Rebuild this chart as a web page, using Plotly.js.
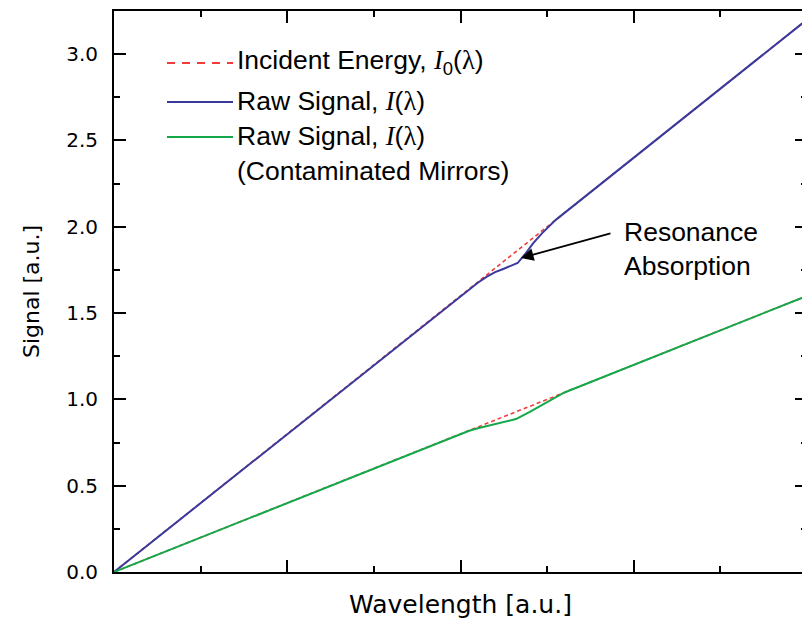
<!DOCTYPE html>
<html>
<head>
<meta charset="utf-8">
<script src="https://cdn.plot.ly/plotly-3.0.1.min.js"></script>
<style>
html, body { margin: 0; padding: 0; overflow: hidden; background: #fff; }
#chart { width: 812px; height: 619px; }
</style>
</head>
<body>
<div id="chart"></div>
<script>
// ---- data ----
const xIncident = [0, 4];
const yIncident = [0, 3.2];
const yIncidentCM = [0, 1.6];

const xRaw = [0, 2.00, 2.05, 2.10, 2.15, 2.20, 2.25, 2.30, 2.33, 2.37, 2.42, 2.47, 2.52, 2.55, 4];
const yRaw = [0, 1.600, 1.639, 1.676, 1.710, 1.737, 1.757, 1.776, 1.790, 1.838, 1.905, 1.962, 2.014, 2.040, 3.2];

const xCM = [0, 2.00, 2.05, 2.10, 2.15, 2.20, 2.25, 2.32, 2.40, 2.47, 2.55, 2.60, 4];
const yCM = [0, 0.800, 0.818, 0.833, 0.846, 0.858, 0.869, 0.886, 0.928, 0.968, 1.012, 1.040, 1.6];

const yTickVals = [0, 0.5, 1.0, 1.5, 2.0, 2.5, 3.0];
const yTickText = ['0.0', '0.5', '1.0', '1.5', '2.0', '2.5', '3.0'];

const legendLabels = [
  'Incident Energy, <span style="font-family:\'Liberation Serif\';font-style:italic">I</span><sub>0</sub>(<span style="font-family:\'Liberation Serif\'">λ</span>)',
  'Raw Signal, <span style="font-family:\'Liberation Serif\';font-style:italic">I</span>(<span style="font-family:\'Liberation Serif\'">λ</span>)',
  'Raw Signal, <span style="font-family:\'Liberation Serif\';font-style:italic">I</span>(<span style="font-family:\'Liberation Serif\'">λ</span>)',
  '(Contaminated Mirrors)'
];

// ---- styles ----
const RED = '#f03c3c', BLUE = '#3a3a9c', GREEN = '#14a84a';
const L = 114, T = 11, W = 693, H = 561;
const px = v => (v - L) / W;          // pixel -> paper x
const py = v => (T + H - v) / H;      // pixel -> paper y

const traces = [
  { x: xIncident, y: yIncident, mode: 'lines', line: { color: RED, width: 1.6, dash: '4px,3px' }, showlegend: false, hoverinfo: 'skip' },
  { x: xIncident, y: yIncidentCM, mode: 'lines', line: { color: RED, width: 1.6, dash: '4px,3px' }, showlegend: false, hoverinfo: 'skip' },
  { x: xRaw, y: yRaw, mode: 'lines', line: { color: BLUE, width: 2 }, showlegend: false },
  { x: xCM, y: yCM, mode: 'lines', line: { color: GREEN, width: 2 }, showlegend: false }
];

const legFont = { family: 'Liberation Sans, Arial, sans-serif', size: 26.5, color: '#000' };
const shapes = [
  { type: 'line', xref: 'paper', yref: 'paper', x0: px(167), x1: px(233), y0: py(63), y1: py(63), line: { color: RED, width: 2, dash: '8px,7px' } },
  { type: 'line', xref: 'paper', yref: 'paper', x0: px(167), x1: px(233), y0: py(102), y1: py(102), line: { color: BLUE, width: 2 } },
  { type: 'line', xref: 'paper', yref: 'paper', x0: px(167), x1: px(233), y0: py(137), y1: py(137), line: { color: GREEN, width: 2 } }
];
const legY = [62, 101, 136, 171];
const annotations = legendLabels.map((t, i) => ({
  xref: 'paper', yref: 'paper', x: px(235), y: py(legY[i]), xanchor: 'left', yanchor: 'middle',
  text: t, showarrow: false, font: legFont
}));
annotations.push({
  xref: 'paper', yref: 'paper', x: px(622), y: py(249), xanchor: 'left', yanchor: 'middle',
  text: 'Resonance<br>Absorption', showarrow: false, font: legFont, align: 'left'
});
annotations.push({
  x: 2.349, y: 1.819, xref: 'x', yref: 'y', text: '', showarrow: true,
  ax: 91, ay: -25, arrowhead: 2, arrowsize: 1.4, arrowwidth: 1.8, arrowcolor: '#000', standoff: 0, startstandoff: 0
});

const layout = {
  width: 812, height: 619,
  margin: { l: L, r: 812 - L - W, t: T, b: 619 - T - H },
  paper_bgcolor: '#fff', plot_bgcolor: '#fff',
  showlegend: false,
  font: { family: 'DejaVu Sans, Verdana, sans-serif', color: '#000' },
  xaxis: {
    range: [0, 4], dtick: 1, tick0: 0, showticklabels: false,
    ticks: 'inside', ticklen: 12, tickwidth: 2, tickcolor: '#000',
    minor: { dtick: 0.5, tick0: 0, ticks: 'inside', ticklen: 6, tickwidth: 2, tickcolor: '#000' },
    showline: true, linewidth: 2, linecolor: '#000', mirror: 'ticks',
    showgrid: false, zeroline: false,
    title: { text: 'Wavelength [a.u.]', font: { size: 25, family: 'DejaVu Sans, Verdana, sans-serif' }, standoff: 22 }
  },
  yaxis: {
    range: [0, 3.25], tickvals: yTickVals, ticktext: yTickText,
    ticks: 'inside', ticklen: 12, tickwidth: 2, tickcolor: '#000',
    minor: { tickvals: [0.25, 0.75, 1.25, 1.75, 2.25, 2.75], ticks: 'inside', ticklen: 6, tickwidth: 2, tickcolor: '#000' },
    showline: true, linewidth: 2, linecolor: '#000', mirror: 'ticks',
    showgrid: false, zeroline: false,
    tickfont: { size: 20, family: 'DejaVu Sans, Verdana, sans-serif' },
    ticklabelstandoff: 10,
    title: { text: 'Signal [a.u.]', font: { size: 22, family: 'DejaVu Sans, Verdana, sans-serif' }, standoff: 20 }
  },
  shapes: shapes,
  annotations: annotations
};

Plotly.newPlot('chart', traces, layout, { displayModeBar: false, staticPlot: true });
</script>
</body>
</html>
